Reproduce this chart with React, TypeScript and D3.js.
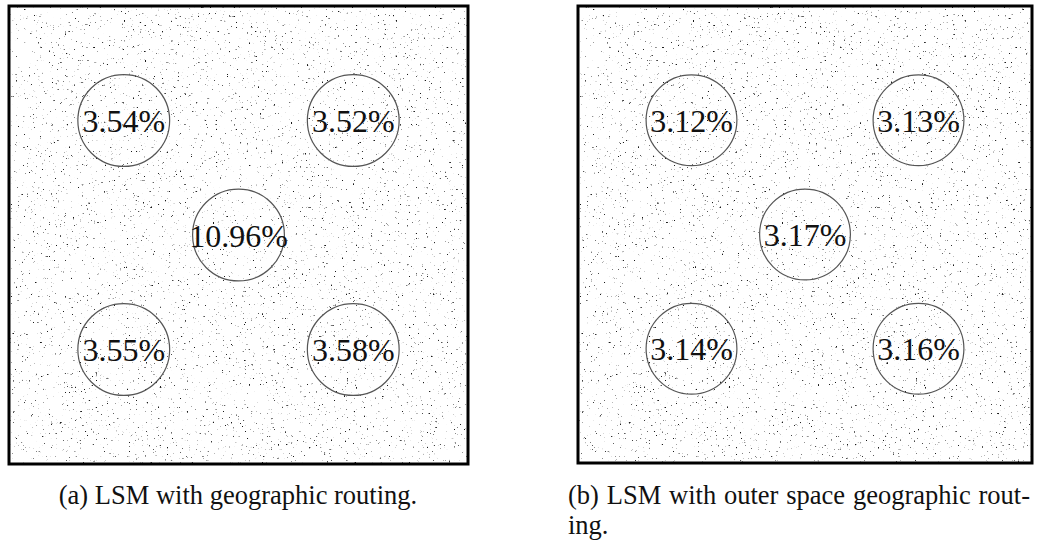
import React, { useEffect, useRef } from "react"
import * as d3 from "d3"

// zone centres (fraction of the field) and zone radius
const zoneX = [0.25, 0.75, 0.5, 0.25, 0.75]
const zoneY = [0.25, 0.25, 0.5, 0.75, 0.75]
const zoneRadius = 0.1

// loss rate inside each zone, %
const lossA = [3.54, 3.52, 10.96, 3.55, 3.58]
const lossB = [3.12, 3.13, 3.17, 3.14, 3.16]

const captionA = ["(a) LSM with geographic routing."]
const captionB = ["(b) LSM with outer space geographic rout-", "ing."]

const W = 1043
const H = 545
const serif = "'Liberation Serif', 'Times New Roman', Times, serif"

export default function App() {
    const ref = useRef<SVGSVGElement>(null)

    useEffect(() => {
        const svg = d3.select(ref.current)
        svg.selectAll("*").remove()

        // sensor nodes scattered over the field, drawn as a noise texture
        const defs = svg.append("defs")
        const f = defs.append("filter")
            .attr("id", "nodes")
            .attr("x", 0).attr("y", 0).attr("width", 1).attr("height", 1)
            .attr("color-interpolation-filters", "sRGB")
        f.append("feTurbulence")
            .attr("type", "fractalNoise")
            .attr("baseFrequency", 0.45)
            .attr("numOctaves", 3)
            .attr("seed", 11)
            .attr("result", "n")
        f.append("feColorMatrix")
            .attr("type", "matrix")
            .attr("values", "0 0 0 0 0.1  0 0 0 0 0.1  0 0 0 0 0.1  8 0 0 0 -5.72")

        const panels = [
            { box: [9, 6, 468, 464], loss: lossA, caption: captionA, cx: 238, align: "middle" },
            { box: [578, 6, 1032, 463], loss: lossB, caption: captionB, cx: 568, align: "start" },
        ]

        panels.forEach((p) => {
            const [x0, y0, x1, y1] = p.box
            const x = d3.scaleLinear().domain([0, 1]).range([x0, x1])
            const y = d3.scaleLinear().domain([0, 1]).range([y0, y1])
            const r = d3.scaleLinear().domain([0, 1]).range([0, x1 - x0])
            const g = svg.append("g")

            g.append("rect")
                .attr("x", x0).attr("y", y0)
                .attr("width", x1 - x0).attr("height", y1 - y0)
                .attr("fill", "#fff")
            g.append("rect")
                .attr("x", x0).attr("y", y0)
                .attr("width", x1 - x0).attr("height", y1 - y0)
                .attr("fill", "#000")
                .attr("filter", "url(#nodes)")

            const zones = g.selectAll("g.zone")
                .data(p.loss)
                .enter()
                .append("g")
                .attr("class", "zone")
                .attr("transform", (d, i) => `translate(${x(zoneX[i])}, ${y(zoneY[i])})`)

            zones.append("circle")
                .attr("r", r(zoneRadius))
                .attr("fill", "none")
                .attr("stroke", "#555")
                .attr("stroke-width", 1.2)

            zones.append("text")
                .attr("text-anchor", "middle")
                .attr("y", 11.5)
                .style("font-family", serif)
                .style("font-size", "32px")
                .attr("fill", "#111")
                .text((d) => d3.format(".2f")(d) + "%")

            g.append("rect")
                .attr("x", x0).attr("y", y0)
                .attr("width", x1 - x0).attr("height", y1 - y0)
                .attr("fill", "none")
                .attr("stroke", "#000")
                .attr("stroke-width", 3)

            p.caption.forEach((line, i) => {
                const t = g.append("text")
                    .attr("x", p.cx)
                    .attr("y", 504 + i * 30)
                    .attr("text-anchor", p.align)
                    .style("font-family", serif)
                    .style("font-size", "26.5px")
                    .attr("fill", "#111")
                    .text(line)
                // justify the first line of a wrapped caption
                if (p.caption.length > 1 && i < p.caption.length - 1) {
                    const node = t.node() as SVGTextElement
                    const len = node.getComputedTextLength()
                    const gaps = line.split(" ").length - 1
                    t.attr("word-spacing", (1030 - p.cx - len) / gaps)
                }
            })
        })
    }, [])

    return (
        <svg ref={ref} width={W} height={H}
            style={{ position: "absolute", left: 0, top: 0, background: "#fff" }} />
    )
}
